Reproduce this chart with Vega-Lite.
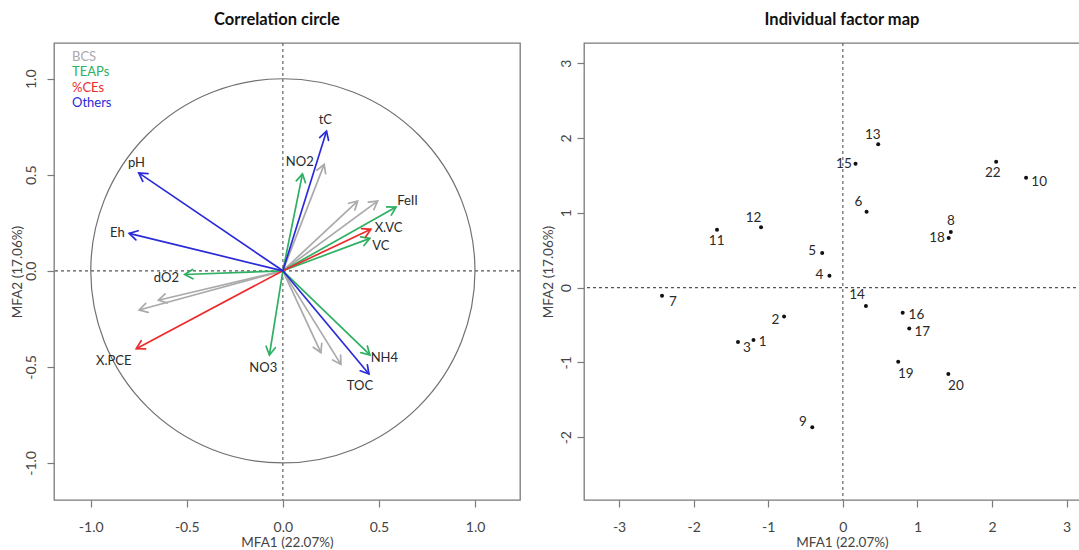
{
  "$schema": "https://vega.github.io/schema/vega-lite/v6.json",
  "padding": {"left": 9, "top": 11, "right": 0, "bottom": 0},
  "background": "white",
  "spacing": 18,
  "config": {
    "font": "Lato",
    "view": {"stroke": "#7a7a7a", "strokeWidth": 1.3},
    "title": {"fontSize": 16.5, "fontWeight": "bold", "color": "#111", "offset": 14},
    "axis": {"grid": false, "domain": false, "tickColor": "#7a7a7a", "tickSize": 7, "tickWidth": 1.2, "labelFontSize": 14, "labelColor": "#444", "titleFontSize": 13.5, "titleFontWeight": "normal", "titleColor": "#444", "labelExpr": "replace(datum.label, '\u2212', '-')"},
    "axisX": {"labelPadding": 13, "titlePadding": 1},
    "axisY": {"labelAngle": 270, "labelAlign": "center", "labelBaseline": "bottom", "titlePadding": 4}
  },
  "resolve": {"scale": {"color": "independent"}, "legend": {"color": "independent"}},
  "datasets": {
    "arrows": [
      {"name": "b1", "grp": "BCS", "x": -0.648, "y": -0.153},
      {"name": "b2", "grp": "BCS", "x": -0.748, "y": -0.204},
      {"name": "b3", "grp": "BCS", "x": 0.215, "y": 0.554},
      {"name": "b4", "grp": "BCS", "x": 0.389, "y": 0.363},
      {"name": "b5", "grp": "BCS", "x": 0.493, "y": 0.363},
      {"name": "b6", "grp": "BCS", "x": 0.198, "y": -0.426},
      {"name": "b7", "grp": "BCS", "x": 0.302, "y": -0.487},
      {"name": "dO2", "grp": "TEAPs", "x": -0.511, "y": -0.019},
      {"name": "NO2", "grp": "TEAPs", "x": 0.102, "y": 0.505},
      {"name": "FeII", "grp": "TEAPs", "x": 0.589, "y": 0.332},
      {"name": "VC", "grp": "TEAPs", "x": 0.453, "y": 0.169},
      {"name": "NH4", "grp": "TEAPs", "x": 0.453, "y": -0.438},
      {"name": "NO3", "grp": "TEAPs", "x": -0.07, "y": -0.438},
      {"name": "X.VC", "grp": "%CEs", "x": 0.458, "y": 0.216},
      {"name": "X.PCE", "grp": "%CEs", "x": -0.763, "y": -0.405},
      {"name": "pH", "grp": "Others", "x": -0.75, "y": 0.51},
      {"name": "Eh", "grp": "Others", "x": -0.8, "y": 0.195},
      {"name": "tC", "grp": "Others", "x": 0.227, "y": 0.727},
      {"name": "TOC", "grp": "Others", "x": 0.448, "y": -0.537}
    ],
    "varlabels": [
      {"name": "tC", "lx": 0.221, "ly": 0.783},
      {"name": "NO2", "lx": 0.088, "ly": 0.567},
      {"name": "FeII", "lx": 0.649, "ly": 0.363},
      {"name": "X.VC", "lx": 0.55, "ly": 0.221},
      {"name": "VC", "lx": 0.51, "ly": 0.127},
      {"name": "NH4", "lx": 0.528, "ly": -0.452},
      {"name": "TOC", "lx": 0.401, "ly": -0.6},
      {"name": "NO3", "lx": -0.102, "ly": -0.504},
      {"name": "pH", "lx": -0.762, "ly": 0.563},
      {"name": "Eh", "lx": -0.861, "ly": 0.198},
      {"name": "dO2", "lx": -0.606, "ly": -0.036},
      {"name": "X.PCE", "lx": -0.88, "ly": -0.471}
    ],
    "individuals": [
      {"id": "13", "x": 0.474, "y": 1.915, "lx": 0.401, "ly": 2.037},
      {"id": "15", "x": 0.17, "y": 1.657, "lx": 0.014, "ly": 1.657},
      {"id": "22", "x": 2.055, "y": 1.681, "lx": 2.009, "ly": 1.531},
      {"id": "10", "x": 2.456, "y": 1.47, "lx": 2.631, "ly": 1.409},
      {"id": "6", "x": 0.318, "y": 1.015, "lx": 0.207, "ly": 1.145},
      {"id": "12", "x": -1.097, "y": 0.805, "lx": -1.198, "ly": 0.935},
      {"id": "11", "x": -1.687, "y": 0.772, "lx": -1.692, "ly": 0.621},
      {"id": "8", "x": 1.447, "y": 0.743, "lx": 1.447, "ly": 0.888},
      {"id": "18", "x": 1.419, "y": 0.663, "lx": 1.262, "ly": 0.663},
      {"id": "5", "x": -0.277, "y": 0.462, "lx": -0.41, "ly": 0.49},
      {"id": "4", "x": -0.18, "y": 0.157, "lx": -0.313, "ly": 0.171},
      {"id": "7", "x": -2.424, "y": -0.11, "lx": -2.277, "ly": -0.195},
      {"id": "14", "x": 0.309, "y": -0.246, "lx": 0.189, "ly": -0.101},
      {"id": "16", "x": 0.802, "y": -0.335, "lx": 0.986, "ly": -0.373},
      {"id": "2", "x": -0.788, "y": -0.387, "lx": -0.903, "ly": -0.438},
      {"id": "17", "x": 0.89, "y": -0.546, "lx": 1.064, "ly": -0.589},
      {"id": "1", "x": -1.198, "y": -0.701, "lx": -1.074, "ly": -0.729},
      {"id": "3", "x": -1.406, "y": -0.729, "lx": -1.286, "ly": -0.813},
      {"id": "19", "x": 0.742, "y": -0.992, "lx": 0.843, "ly": -1.151},
      {"id": "20", "x": 1.414, "y": -1.156, "lx": 1.516, "ly": -1.31},
      {"id": "9", "x": -0.41, "y": -1.869, "lx": -0.534, "ly": -1.798}
    ]
  },
  "hconcat": [
    {
      "width": 466,
      "height": 457,
      "title": {"text": "Correlation circle", "dx": -10},
      "layer": [
        {
          "data": {"values": [{}]},
          "mark": {"type": "rule", "strokeDash": [3, 3], "color": "#555", "strokeWidth": 1.1},
          "encoding": {"y": {"datum": 0, "type": "quantitative", "title": "MFA2 (17.06%)"}}
        },
        {
          "data": {"values": [{}]},
          "mark": {"type": "rule", "strokeDash": [3, 3], "color": "#555", "strokeWidth": 1.1},
          "encoding": {"x": {"datum": 0, "type": "quantitative", "title": "MFA1 (22.07%)"}}
        },
        {
          "data": {"values": [{}]},
          "mark": {"type": "point", "shape": "circle", "size": 147610, "filled": false, "stroke": "#707070", "strokeWidth": 1.2, "opacity": 1},
          "encoding": {
            "x": {"datum": 0, "type": "quantitative", "title": "MFA1 (22.07%)"},
            "y": {"datum": 0, "type": "quantitative", "title": "MFA2 (17.06%)"}
          }
        },
        {
          "data": {"name": "arrows"},
          "mark": {"type": "rule", "strokeWidth": 1.7},
          "encoding": {
            "x": {"field": "x", "type": "quantitative", "title": "MFA1 (22.07%)",
                  "scale": {"domain": [-1.191, 1.234], "nice": false, "zero": false},
                  "axis": {"values": [-1, -0.5, 0, 0.5, 1], "format": ".1f"}},
            "y": {"field": "y", "type": "quantitative", "title": "MFA2 (17.06%)",
                  "scale": {"domain": [-1.193, 1.186], "nice": false, "zero": false},
                  "axis": {"values": [-1, -0.5, 0, 0.5, 1], "format": ".1f", "labelPadding": 9, "titlePadding": 0}},
            "x2": {"datum": 0},
            "y2": {"datum": 0},
            "color": {"field": "grp", "type": "nominal",
                      "scale": {"domain": ["BCS", "TEAPs", "%CEs", "Others"], "range": ["#aaaaaa", "#2eb062", "#ee2a2a", "#2a2ad8"]},
                      "legend": {"title": null, "orient": "top-left", "offset": 7, "padding": 0, "symbolSize": 0, "symbolOpacity": 0, "symbolStrokeWidth": 0, "labelOffset": -2, "labelFontSize": 13, "rowPadding": 1.5,
                                 "labelColor": {"expr": "datum.label == 'BCS' ? '#aaaaaa' : datum.label == 'TEAPs' ? '#2eb062' : datum.label == '%CEs' ? '#ee2a2a' : '#2a2ad8'"}}}
          }
        },
        {
          "data": {"name": "arrows"},
          "transform": [{"calculate": "atan2(datum.x, datum.y) * 180 / PI", "as": "ang"}],
          "mark": {"type": "point", "shape": "M-0.5,0.866L0,0L0.5,0.866", "size": 350, "filled": false, "strokeWidth": 1.7, "opacity": 1, "strokeCap": "round"},
          "encoding": {
            "x": {"field": "x", "type": "quantitative", "title": "MFA1 (22.07%)"},
            "y": {"field": "y", "type": "quantitative", "title": "MFA2 (17.06%)"},
            "color": {"field": "grp", "type": "nominal"},
            "angle": {"field": "ang", "type": "quantitative", "scale": null}
          }
        },
        {
          "data": {"name": "varlabels"},
          "mark": {"type": "text", "fontSize": 13, "color": "#2a2a2a"},
          "encoding": {
            "x": {"field": "lx", "type": "quantitative", "title": "MFA1 (22.07%)"},
            "y": {"field": "ly", "type": "quantitative", "title": "MFA2 (17.06%)"},
            "text": {"field": "name"}
          }
        }
      ]
    },
    {
      "width": 516,
      "height": 457,
      "title": {"text": "Individual factor map"},
      "layer": [
        {
          "data": {"values": [{}]},
          "mark": {"type": "rule", "strokeDash": [3, 3], "color": "#555", "strokeWidth": 1.1},
          "encoding": {"y": {"datum": 0, "type": "quantitative", "title": "MFA2 (17.06%)"}}
        },
        {
          "data": {"values": [{}]},
          "mark": {"type": "rule", "strokeDash": [3, 3], "color": "#555", "strokeWidth": 1.1},
          "encoding": {"x": {"datum": 0, "type": "quantitative", "title": "MFA1 (22.07%)"}}
        },
        {
          "data": {"name": "individuals"},
          "mark": {"type": "point", "shape": "circle", "size": 16, "filled": true, "color": "#111", "opacity": 1},
          "encoding": {
            "x": {"field": "x", "type": "quantitative", "title": "MFA1 (22.07%)",
                  "scale": {"domain": [-3.47, 3.447], "nice": false, "zero": false},
                  "axis": {"values": [-3, -2, -1, 0, 1, 2, 3], "format": "d"}},
            "y": {"field": "y", "type": "quantitative", "title": "MFA2 (17.06%)",
                  "scale": {"domain": [-2.84, 3.27], "nice": false, "zero": false},
                  "axis": {"values": [-2, -1, 0, 1, 2, 3], "format": "d", "labelPadding": 4}}
          }
        },
        {
          "data": {"name": "individuals"},
          "mark": {"type": "text", "fontSize": 13.5, "color": "#2a2a2a"},
          "encoding": {
            "x": {"field": "lx", "type": "quantitative", "title": "MFA1 (22.07%)"},
            "y": {"field": "ly", "type": "quantitative", "title": "MFA2 (17.06%)"},
            "text": {"field": "id"}
          }
        }
      ]
    }
  ]
}
